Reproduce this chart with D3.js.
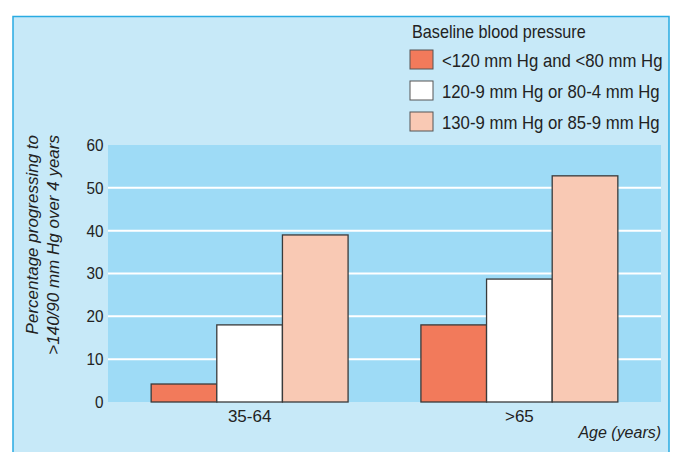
<!DOCTYPE html>
<html><head><meta charset="utf-8">
<script src="https://cdn.jsdelivr.net/npm/d3@7"></script>
<style>
body{margin:0;background:#fff;}
svg{display:block;font-family:"Liberation Sans","Arial",sans-serif;}
</style></head>
<body>
<svg id="c" width="680" height="452"></svg>
<script>
const categories = ["35-64", ">65"];
const seriesNames = ["<120 mm Hg and <80 mm Hg", "120-9 mm Hg or 80-4 mm Hg", "130-9 mm Hg or 85-9 mm Hg"];
const seriesLow = [4.2, 18.0];
const seriesMid = [18.0, 28.7];
const seriesHigh = [39.0, 52.8];
const yTicks = [0, 10, 20, 30, 40, 50, 60];
const colors = ["#F27A5B", "#FFFFFF", "#F9C9B4"];

(function(){
const svg = d3.select("#c");
svg.append("rect").attr("x",13).attr("y",16.5).attr("width",656).attr("height",460)
  .attr("fill","#C7E9F8").attr("stroke","#29ABE2").attr("stroke-width",1.5);

function label(x, y, txt, size, sx, anchor, italic){
  return svg.append("text").attr("transform",`translate(${x},${y}) scale(${sx},1)`)
    .attr("font-size",size).attr("fill","#222").attr("text-anchor",anchor||"start")
    .attr("font-style",italic?"italic":"normal").text(txt);
}

const pL=108, pR=661, pT=145, pB=402;
const y = d3.scaleLinear().domain([0,60]).range([pB, pT]);
const x0 = d3.scaleBand().domain(categories).range([pL,pR]).paddingInner(0.27).paddingOuter(0.16);
const x1 = d3.scaleBand().domain(d3.range(seriesNames.length)).range([0,x0.bandwidth()]);

svg.append("rect").attr("x",pL).attr("y",pT).attr("width",pR-pL).attr("height",pB-pT).attr("fill","#9EDBF6");

svg.append("g").selectAll("line").data(yTicks.filter(d=>d>0&&d<60)).join("line")
  .attr("x1",pL).attr("x2",pR).attr("y1",d=>y(d)).attr("y2",d=>y(d))
  .attr("stroke","#fff").attr("stroke-width",2);

const yAxis = svg.append("g").attr("transform",`translate(${pL},0)`)
  .call(d3.axisLeft(y).tickValues(yTicks).tickSize(0).tickPadding(5));
yAxis.select(".domain").remove();
yAxis.selectAll("text").attr("font-size",17).attr("fill","#222").style("font-family","inherit")
  .attr("transform","scale(0.9,1)");

const all = [seriesLow, seriesMid, seriesHigh];
categories.forEach((c,ci)=>{
  const g = svg.append("g").attr("transform",`translate(${x0(c)},0)`);
  g.selectAll("rect").data(all.map((s,si)=>({si, v:s[ci]}))).join("rect")
    .attr("x",d=>x1(d.si)).attr("width",x1.bandwidth())
    .attr("y",d=>y(d.v)).attr("height",d=>y(0)-y(d.v))
    .attr("fill",d=>colors[d.si]).attr("stroke","#3a3a3a").attr("stroke-width",1.3);
});

const xAxis = svg.append("g").attr("transform",`translate(0,${pB})`)
  .call(d3.axisBottom(x0).tickSize(0).tickPadding(8));
xAxis.select(".domain").remove();
xAxis.selectAll("text").attr("font-size",17).attr("fill","#222").style("font-family","inherit")
  .attr("y",20).attr("dy",0);

label(pR, 438, "Age (years)", 17, 0.94, "end", true);

const yt = svg.append("text").attr("transform","rotate(-90)")
  .attr("font-size",17).attr("font-style","italic").attr("fill","#222").attr("text-anchor","end");
yt.append("tspan").attr("x",-135).attr("y",38).text("Percentage progressing to");
yt.append("tspan").attr("x",-135).attr("y",59).text(">140/90 mm Hg over 4 years");

label(412, 38, "Baseline blood pressure", 18, 0.9, "start", false);
const lg = svg.append("g").selectAll("g").data(seriesNames).join("g")
  .attr("transform",(d,i)=>`translate(410,${50+i*31})`);
lg.append("rect").attr("width",23).attr("height",19).attr("fill",(d,i)=>colors[i]).attr("stroke","#555").attr("stroke-width",1);
lg.append("text").attr("transform","translate(32,17) scale(0.93,1)").attr("font-size",18).attr("fill","#222").text(d=>d);
})();
</script>
</body></html>
